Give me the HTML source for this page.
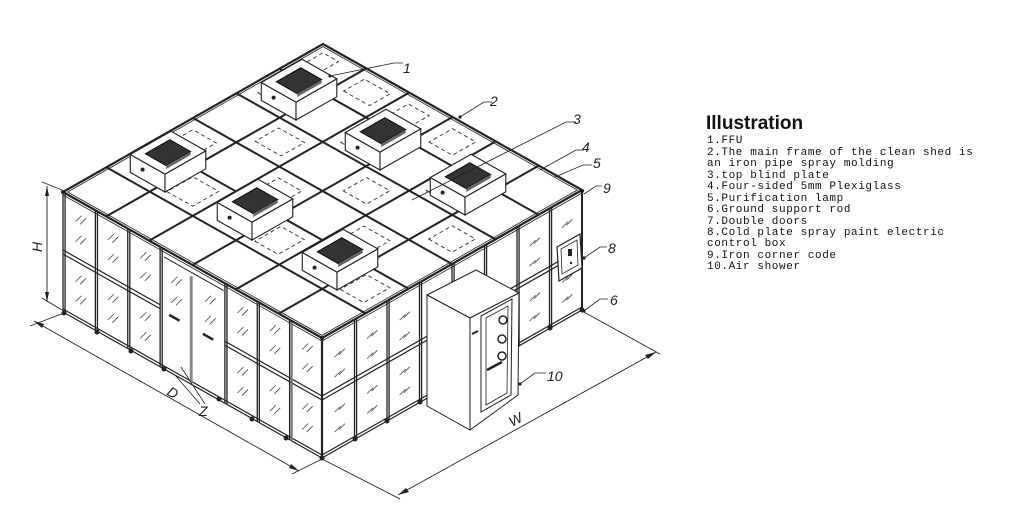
<!DOCTYPE html>
<html><head><meta charset="utf-8"><style>
html,body{margin:0;padding:0;background:#fff;width:1009px;height:507px;overflow:hidden}
svg{display:block}
.n{vector-effect:non-scaling-stroke}
.lbl{font-family:"Liberation Sans",sans-serif;font-style:italic;font-size:14px;fill:#222}
.leg{font-family:"Liberation Mono",monospace;font-size:11px;letter-spacing:0.6px;fill:#111}
</style></head><body>
<svg width="1009" height="507" viewBox="0 0 1009 507" xmlns="http://www.w3.org/2000/svg">
<defs>
<g id="ffu">
<polygon points="-31,-17.5 0,0 0,-16 -31,-33.5" fill="#fff" stroke="#222" stroke-width="1"/>
<polygon points="0,0 36.4,-20.7 36.4,-36.7 0,-16" fill="#fff" stroke="#222" stroke-width="1"/>
<polygon points="0,-16 36.4,-36.7 5.4,-54.2 -31,-33.5" fill="#fff" stroke="#222" stroke-width="1"/>
<polygon points="1.1,-23.6 22.9,-36.1 4.3,-46.6 -17.5,-34.1" fill="#333" stroke="#111" stroke-width="1"/>
<polygon points="1.1,-23.6 22.9,-36.1 22.9,-33 1.1,-20.5" fill="#666"/>
<circle cx="-20" cy="-20" r="1.8" fill="#222"/>
</g>
<g id="hl"><line x1="-1.16" y1="4.7" x2="1.16" y2="-4.7" class="n" stroke="#444" stroke-width="0.8"/><line x1="0.6" y1="4.7" x2="2.9" y2="-4.7" class="n" stroke="#444" stroke-width="0.8"/></g>
<g id="hr"><line x1="-1.15" y1="1.3" x2="1.15" y2="-1.3" class="n" stroke="#444" stroke-width="0.8"/><line x1="0.5" y1="1.3" x2="2.8" y2="-1.3" class="n" stroke="#444" stroke-width="0.8"/></g>
</defs>

<!-- LEFT WALL -->
<g transform="matrix(2.59,1.46,0,1,63,192)">
<rect x="0" y="0" width="100" height="120" fill="#fff"/>
<g stroke="#222" fill="none" class="n">
<line x1="0" y1="0" x2="100" y2="0" class="n" stroke-width="2"/>
<line x1="0" y1="3" x2="100" y2="3" class="n" stroke-width="0.8"/>
<line x1="0" y1="58" x2="37.5" y2="58" class="n" stroke-width="1.2"/>
<line x1="0" y1="62" x2="37.5" y2="62" class="n" stroke-width="1.2"/>
<line x1="62.5" y1="58" x2="100" y2="58" class="n" stroke-width="1.2"/>
<line x1="62.5" y1="62" x2="100" y2="62" class="n" stroke-width="1.2"/>
<line x1="0" y1="117" x2="100" y2="117" class="n" stroke-width="1.2"/>
<line x1="0" y1="120" x2="100" y2="120" class="n" stroke-width="1.2"/>
</g>
<g stroke="#222" stroke-width="1.3">
<line x1="0" y1="0" x2="0" y2="120" class="n"/><line x1="0.8" y1="0" x2="0.8" y2="120" class="n"/>
<line x1="12.5" y1="0" x2="12.5" y2="120" class="n"/><line x1="13.3" y1="0" x2="13.3" y2="120" class="n"/>
<line x1="25" y1="0" x2="25" y2="120" class="n"/><line x1="25.8" y1="0" x2="25.8" y2="120" class="n"/>
<line x1="37.5" y1="0" x2="37.5" y2="120" class="n"/><line x1="38.3" y1="0" x2="38.3" y2="120" class="n"/>
<line x1="49.5" y1="12" x2="49.5" y2="118" class="n" stroke="#888" stroke-width="3"/>
<line x1="62.5" y1="0" x2="62.5" y2="120" class="n"/><line x1="63.3" y1="0" x2="63.3" y2="120" class="n"/>
<line x1="75" y1="0" x2="75" y2="120" class="n"/><line x1="75.8" y1="0" x2="75.8" y2="120" class="n"/>
<line x1="87.5" y1="0" x2="87.5" y2="120" class="n"/><line x1="88.3" y1="0" x2="88.3" y2="120" class="n" stroke="#777" stroke-width="2"/>
<line x1="100" y1="0" x2="100" y2="120" class="n" stroke-width="2"/>
</g>
<line x1="39" y1="8" x2="62" y2="8" class="n" stroke="#222" stroke-width="1"/>
<line x1="41" y1="63" x2="45" y2="63" class="n" stroke="#222" stroke-width="2.5"/>
<line x1="54" y1="63" x2="58" y2="63" class="n" stroke="#222" stroke-width="2.5"/>
<g>
<use href="#hl" transform="translate(6,18)"/><use href="#hl" transform="translate(6,38)"/><use href="#hl" transform="translate(6,78)"/><use href="#hl" transform="translate(6,98)"/>
<use href="#hl" transform="translate(18.5,18)"/><use href="#hl" transform="translate(18.5,38)"/><use href="#hl" transform="translate(18.5,78)"/><use href="#hl" transform="translate(18.5,98)"/>
<use href="#hl" transform="translate(31,18)"/><use href="#hl" transform="translate(31,38)"/><use href="#hl" transform="translate(31,78)"/><use href="#hl" transform="translate(31,98)"/>
<use href="#hl" transform="translate(43,25)"/><use href="#hl" transform="translate(43,45)"/><use href="#hl" transform="translate(56,25)"/><use href="#hl" transform="translate(56,45)"/>
<use href="#hl" transform="translate(68.5,18)"/><use href="#hl" transform="translate(68.5,38)"/><use href="#hl" transform="translate(68.5,78)"/><use href="#hl" transform="translate(68.5,98)"/>
<use href="#hl" transform="translate(81,18)"/><use href="#hl" transform="translate(81,38)"/><use href="#hl" transform="translate(81,78)"/><use href="#hl" transform="translate(81,98)"/>
<use href="#hl" transform="translate(93.5,18)"/><use href="#hl" transform="translate(93.5,38)"/><use href="#hl" transform="translate(93.5,78)"/><use href="#hl" transform="translate(93.5,98)"/>
</g>
</g>
<!-- RIGHT WALL -->
<g transform="matrix(2.60,-1.48,0,1,322,338)">
<rect x="0" y="0" width="100" height="120" fill="#fff"/>
<g stroke="#222" stroke-width="1.2">
<line x1="0" y1="0" x2="100" y2="0" class="n" stroke-width="2"/>
<line x1="0" y1="3" x2="100" y2="3" class="n" stroke-width="0.8"/>
<line x1="0" y1="58" x2="100" y2="58" class="n"/><line x1="0" y1="62" x2="100" y2="62" class="n"/>
<line x1="0" y1="117" x2="100" y2="117" class="n"/><line x1="0" y1="120" x2="100" y2="120" class="n"/>
</g>
<g stroke="#222" stroke-width="1.3">
<line x1="0" y1="0" x2="0" y2="120" class="n" stroke-width="2.2"/>
<line x1="12.5" y1="0" x2="12.5" y2="120" class="n"/><line x1="13.3" y1="0" x2="13.3" y2="120" class="n"/>
<line x1="25" y1="0" x2="25" y2="120" class="n"/><line x1="25.8" y1="0" x2="25.8" y2="120" class="n"/>
<line x1="37.5" y1="0" x2="37.5" y2="120" class="n"/><line x1="38.3" y1="0" x2="38.3" y2="120" class="n"/>
<line x1="50" y1="0" x2="50" y2="120" class="n"/><line x1="50.8" y1="0" x2="50.8" y2="120" class="n"/>
<line x1="62.5" y1="0" x2="62.5" y2="120" class="n"/><line x1="63.3" y1="0" x2="63.3" y2="120" class="n"/>
<line x1="75" y1="0" x2="75" y2="120" class="n"/><line x1="75.8" y1="0" x2="75.8" y2="120" class="n"/>
<line x1="87.5" y1="0" x2="87.5" y2="120" class="n"/><line x1="88.3" y1="0" x2="88.3" y2="120" class="n"/>
<line x1="100" y1="0" x2="100" y2="120" class="n" stroke-width="2"/>
</g>
<g>
<use href="#hr" transform="translate(6,25)"/><use href="#hr" transform="translate(6,45)"/><use href="#hr" transform="translate(6,80)"/><use href="#hr" transform="translate(6,100)"/>
<use href="#hr" transform="translate(18.5,25)"/><use href="#hr" transform="translate(18.5,45)"/><use href="#hr" transform="translate(18.5,80)"/><use href="#hr" transform="translate(18.5,100)"/>
<use href="#hr" transform="translate(31,25)"/><use href="#hr" transform="translate(31,45)"/><use href="#hr" transform="translate(31,80)"/><use href="#hr" transform="translate(31,100)"/>
<use href="#hr" transform="translate(81,25)"/><use href="#hr" transform="translate(81,45)"/><use href="#hr" transform="translate(81,80)"/><use href="#hr" transform="translate(81,100)"/>
<use href="#hr" transform="translate(93.5,25)"/><use href="#hr" transform="translate(93.5,80)"/><use href="#hr" transform="translate(93.5,100)"/>
</g>
</g>
<!-- post feet -->
<g fill="#222">
<circle cx="64" cy="313" r="2.5"/><circle cx="97" cy="332" r="2.5"/><circle cx="131" cy="351" r="2.5"/><circle cx="164" cy="369" r="2.5"/><circle cx="219" cy="399" r="2.5"/><circle cx="252" cy="419" r="2.5"/><circle cx="286" cy="438" r="2.5"/><circle cx="322" cy="458" r="2.5"/>
<circle cx="355" cy="439" r="2.5"/><circle cx="387" cy="421" r="2.5"/><circle cx="420" cy="402" r="2.5"/><circle cx="550" cy="328" r="2.5"/><circle cx="582" cy="310" r="2.5"/>
</g>

<!-- ROOF -->
<g transform="matrix(2.59,1.46,2.60,-1.48,63,192)">
<polygon points="0,0 100,0 100,100 0,100" fill="#fff"/>
<g stroke="#222" fill="none">
<rect x="0" y="0" width="100" height="100" class="n" stroke-width="2.2"/>
<rect x="0.9" y="0.9" width="98.2" height="98.2" class="n" stroke-width="0.8"/>
<line x1="16.7" y1="0" x2="16.7" y2="100" class="n" stroke-width="2"/>
<line x1="33.3" y1="0" x2="33.3" y2="100" class="n" stroke-width="2"/>
<line x1="50" y1="0" x2="50" y2="100" class="n" stroke-width="2"/>
<line x1="66.7" y1="0" x2="66.7" y2="100" class="n" stroke-width="2"/>
<line x1="83.3" y1="0" x2="83.3" y2="100" class="n" stroke-width="2"/>
<line x1="0" y1="16.7" x2="100" y2="16.7" class="n" stroke-width="2"/>
<line x1="0" y1="33.3" x2="100" y2="33.3" class="n" stroke-width="2"/>
<line x1="0" y1="50" x2="100" y2="50" class="n" stroke-width="2"/>
<line x1="0" y1="66.7" x2="100" y2="66.7" class="n" stroke-width="2"/>
<line x1="0" y1="83.3" x2="100" y2="83.3" class="n" stroke-width="2"/>
</g>
<g stroke="#333" fill="none" stroke-dasharray="4 3" stroke-width="0.9">
<rect x="3" y="88" width="6" height="9" class="n"/>
<rect x="20" y="88" width="10" height="8" class="n"/>
<rect x="37" y="87" width="8" height="9" class="n"/>
<rect x="4" y="71" width="9" height="10" class="n"/>
<rect x="20" y="54" width="10" height="9" class="n"/>
<rect x="37" y="70" width="9" height="10" class="n"/>
<rect x="54" y="87" width="9" height="9" class="n"/>
<rect x="4" y="36" width="9" height="10" class="n"/>
<rect x="20" y="20" width="10" height="10" class="n"/>
<rect x="37" y="37" width="9" height="9" class="n"/>
<rect x="54" y="54" width="9" height="9" class="n"/>
<rect x="70" y="70" width="10" height="9" class="n"/>
<rect x="54" y="20" width="9" height="10" class="n"/>
<rect x="70" y="37" width="10" height="9" class="n"/>
<rect x="87" y="54" width="9" height="9" class="n"/>
<rect x="87" y="20" width="9" height="10" class="n"/>
</g>
</g>
<g fill="#222"><circle cx="322" cy="338" r="2"/><circle cx="582" cy="191" r="2"/><circle cx="63" cy="192" r="2"/></g>

<!-- FFUs -->
<use href="#ffu" transform="translate(296,120) scale(1.12)"/>
<use href="#ffu" transform="translate(165,192) scale(1.12)"/>
<use href="#ffu" transform="translate(380,170) scale(1.12)"/>
<use href="#ffu" transform="translate(252,240) scale(1.12)"/>
<use href="#ffu" transform="translate(465,215) scale(1.12)"/>
<use href="#ffu" transform="translate(337,290) scale(1.12)"/>

<!-- control box -->
<polygon points="557,247 580,234 582,268 559,281" fill="#fff" stroke="#222" stroke-width="1.2"/>
<polygon points="561,249 577,240 578,265 562,274" fill="none" stroke="#222" stroke-width="0.8"/>
<rect x="568" y="249" width="4" height="7" fill="#222"/><circle cx="571" cy="263" r="1.2" fill="#222"/>

<!-- AIR SHOWER -->
<polygon points="427,295 476,270 519,293 470,318" fill="#fff" stroke="#222" stroke-width="1"/>
<polygon points="427,295 470,318 470,430 427,406" fill="#fff" stroke="#222" stroke-width="1"/>
<polygon points="470,318 519,293 518,395 470,430" fill="#fff" stroke="#222" stroke-width="1"/>
<polygon points="481,316 512,299 511,395 481,412" fill="none" stroke="#222" stroke-width="1"/>
<polygon points="486,318 508,306 507,393 486,405" fill="none" stroke="#222" stroke-width="0.8"/>
<circle cx="503" cy="320" r="4" fill="#fff" stroke="#222" stroke-width="1.5"/>
<circle cx="502" cy="339" r="4" fill="#fff" stroke="#222" stroke-width="1.5"/>
<circle cx="502" cy="356" r="4" fill="#fff" stroke="#222" stroke-width="1.5"/>
<line x1="487" y1="370" x2="502" y2="362" stroke="#222" stroke-width="2.5"/>
<line x1="472" y1="334" x2="478" y2="331" stroke="#222" stroke-width="2"/>

<!-- DIMENSIONS -->
<g stroke="#222" stroke-width="0.9" fill="none">
<line x1="47" y1="186" x2="47" y2="302"/>
<line x1="42" y1="182" x2="62" y2="190"/><line x1="42" y1="298" x2="62" y2="310"/>
<line x1="34" y1="321" x2="299" y2="471"/>
<line x1="64" y1="313" x2="30" y2="326"/><line x1="322" y1="459" x2="292" y2="474"/>
<line x1="398" y1="495" x2="656" y2="352"/>
<line x1="322" y1="459" x2="400" y2="499"/><line x1="582" y1="311" x2="660" y2="354"/>
</g>
<g fill="#222">
<polygon points="47,186 45,196 49,196"/><polygon points="47,302 45,292 49,292"/>
<polygon points="34,321 44,324 42,328"/><polygon points="299,471 289,468 291,464"/>
<polygon points="398,495 406,488 409,492"/><polygon points="656,352 648,359 645,355"/>
</g>
<text class="lbl" transform="translate(42,252) rotate(-90)" font-size="16">H</text>
<text class="lbl" x="168" y="397" transform="rotate(30 172 392)">D</text>
<text class="lbl" x="199" y="416">Z</text>
<line x1="181" y1="367" x2="205" y2="404" stroke="#222" stroke-width="0.8"/>
<line x1="175" y1="375" x2="200" y2="404" stroke="#222" stroke-width="0.8"/>
<text class="lbl" x="508" y="425" transform="rotate(-28 514 418)" font-size="15">W</text>

<!-- LEADERS -->
<g stroke="#222" stroke-width="0.8" fill="none">
<polyline points="330,76 394,63 403,63"/>
<polyline points="460,117 484,102 492,102"/>
<polyline points="412,200 566,122 576,122"/>
<polyline points="540,170 576,150 584,150"/>
<polyline points="555,177 583,165 592,165"/>
<polyline points="584,194 596,186 602,186"/>
<polyline points="584,258 600,247 607,247"/>
<polyline points="584,311 600,299 608,299"/>
<polyline points="520,384 535,373 546,373"/>
</g>
<g fill="#222"><circle cx="330" cy="76" r="1.6"/><circle cx="460" cy="117" r="1.6"/><circle cx="584" cy="258" r="1.6"/><circle cx="584" cy="311" r="1.6"/><circle cx="520" cy="384" r="1.6"/></g>
<text class="lbl" x="403" y="73">1</text>
<text class="lbl" x="490" y="106">2</text>
<text class="lbl" x="573" y="124">3</text>
<text class="lbl" x="582" y="152">4</text>
<text class="lbl" x="593" y="168">5</text>
<text class="lbl" x="603" y="193">9</text>
<text class="lbl" x="608" y="253">8</text>
<text class="lbl" x="610" y="305">6</text>
<text class="lbl" x="547" y="381">10</text>

<!-- LEGEND -->
<text x="706" y="129" font-family="Liberation Sans, sans-serif" font-size="19" font-weight="bold" fill="#111">Illustration</text>
<text class="leg" x="707" y="143">1.FFU</text>
<text class="leg" x="707" y="155">2.The main frame of the clean shed is</text>
<text class="leg" x="707" y="166">an iron pipe spray molding</text>
<text class="leg" x="707" y="178">3.top blind plate</text>
<text class="leg" x="707" y="189">4.Four-sided 5mm Plexiglass</text>
<text class="leg" x="707" y="201">5.Purification lamp</text>
<text class="leg" x="707" y="212">6.Ground support rod</text>
<text class="leg" x="707" y="224">7.Double doors</text>
<text class="leg" x="707" y="235">8.Cold plate spray paint electric</text>
<text class="leg" x="707" y="246">control box</text>
<text class="leg" x="707" y="258">9.Iron corner code</text>
<text class="leg" x="707" y="269">10.Air shower</text>
</svg>
</body></html>
